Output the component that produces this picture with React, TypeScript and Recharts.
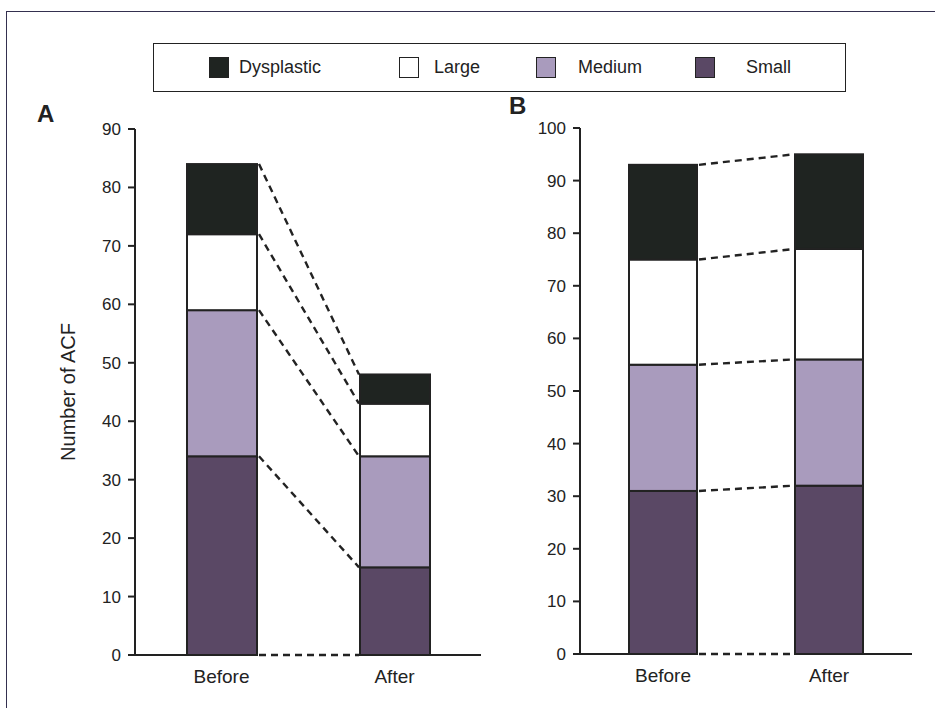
import React from 'react';
import { Bar, BarChart, Label, XAxis, YAxis } from 'recharts';

// bottom-to-top stack order
const SERIES = ['Small', 'Medium', 'Large', 'Dysplastic'];
const COLORS: Record<string, string> = {
  Small: '#5a4865',
  Medium: '#a99bbd',
  Large: '#ffffff',
  Dysplastic: '#1f2421'
};

const groups = ['Before', 'After'];

// panel A
const smallA = [34, 15];
const mediumA = [25, 19];
const largeA = [13, 9];
const dysplasticA = [12, 5];
const ticksA = [0, 10, 20, 30, 40, 50, 60, 70, 80, 90];

// panel B
const smallB = [31, 32];
const mediumB = [24, 24];
const largeB = [20, 21];
const dysplasticB = [18, 18];
const ticksB = [0, 10, 20, 30, 40, 50, 60, 70, 80, 90, 100];

const FONT = '"Liberation Sans", Arial, sans-serif';
const INK = '#222';

function toRows(small: number[], medium: number[], large: number[], dys: number[]) {
  return groups.map((g, i) => ({
    group: g,
    Small: small[i],
    Medium: medium[i],
    Large: large[i],
    Dysplastic: dys[i]
  }));
}

const dataA = toRows(smallA, mediumA, largeA, dysplasticA);
const dataB = toRows(smallB, mediumB, largeB, dysplasticB);

// remembers the "Before" segment so the "After" segment can draw the dashed link
const seen: Record<string, { x: number; y: number; width: number; height: number }> = {};

function linkedShape(key: string, withBase: boolean) {
  return (props: any) => {
    const { x, y, width, height, fill, index } = props;
    let links = null;
    if (index === 0) {
      seen[key] = { x, y, width, height };
    } else if (seen[key]) {
      const p = seen[key];
      const x1 = p.x + p.width + 2;
      const x2 = x - 1;
      links = (
        <g fill="none">
          <line x1={x1} y1={p.y} x2={x2} y2={y} stroke={INK} strokeWidth={2.4} strokeDasharray="7 5" />
          {withBase && (
            <g>
              {/* the axis is broken between the bars and replaced by dashes */}
              <line x1={p.x + p.width + 1} y1={p.y + p.height} x2={x - 1} y2={y + height} stroke="#fff" strokeWidth={5} />
              <line x1={x1} y1={p.y + p.height} x2={x2} y2={y + height} stroke={INK} strokeWidth={2.4} strokeDasharray="7 5" />
            </g>
          )}
        </g>
      );
    }
    return (
      <g>
        <rect x={x} y={y} width={width} height={height} fill={fill} stroke={INK} strokeWidth={2} />
        {links}
      </g>
    );
  };
}

function Panel({ id, data, ticks, max, width, yWidth, right, top, bottom, barSize, withLabel }: any) {
  return (
    <BarChart
      width={width}
      height={700}
      data={data}
      margin={{ top, right, left: 0, bottom }}
      barCategoryGap="30%"
    >
      <XAxis
        dataKey="group"
        height={30}
        tickLine={false}
        tickMargin={9}
        axisLine={{ stroke: INK, strokeWidth: 2 }}
        tick={{ fill: INK, fontSize: 19, fontFamily: FONT }}
      />
      <YAxis
        width={yWidth}
        domain={[0, max]}
        ticks={ticks}
        interval={0}
        tickSize={7}
        tickMargin={7}
        axisLine={{ stroke: INK, strokeWidth: 2 }}
        tickLine={{ stroke: INK, strokeWidth: 2 }}
        tick={{ fill: INK, fontSize: 17, fontFamily: FONT }}
      >
        {withLabel && (
          <Label
            value="Number of ACF"
            angle={-90}
            position="center"
            fontSize={20}
            fontFamily={FONT}
            fill={INK}
          />
        )}
      </YAxis>
      {SERIES.map((s, i) => (
        <Bar
          key={s}
          dataKey={s}
          stackId="acf"
          fill={COLORS[s]}
          barSize={barSize}
          isAnimationActive={false}
          zIndex={700}
          shape={linkedShape(id + s, i === 0)}
        />
      ))}
    </BarChart>
  );
}

export default function App() {
  const legendOrder = [...SERIES].reverse();
  // swatch left / text left, in px from the page's left edge
  const legendPos = [
    [209, 239],
    [399, 434],
    [536, 578],
    [695, 746]
  ];

  return (
    <div
      style={{
        position: 'absolute',
        left: 0,
        top: 0,
        width: 935,
        height: 708,
        overflow: 'hidden',
        background: '#fff',
        fontFamily: FONT
      }}
    >
      <div
        style={{
          position: 'absolute',
          left: 6,
          top: 11,
          width: 960,
          height: 740,
          border: '1.5px solid #34304f'
        }}
      />

      <div
        style={{
          position: 'absolute',
          left: 153,
          top: 43,
          width: 693,
          height: 49,
          boxSizing: 'border-box',
          border: `1.5px solid ${INK}`
        }}
      />
      {legendOrder.map((s, i) => (
        <React.Fragment key={s}>
          <span
            style={{
              position: 'absolute',
              left: legendPos[i][0],
              top: 57,
              width: 20,
              height: 21,
              boxSizing: 'border-box',
              background: COLORS[s],
              border: `1.5px solid ${INK}`
            }}
          />
          <span
            style={{
              position: 'absolute',
              left: legendPos[i][1],
              top: 56,
              fontSize: 18,
              lineHeight: '22px',
              color: INK
            }}
          >
            {s}
          </span>
        </React.Fragment>
      ))}

      <div style={{ position: 'absolute', left: 37, top: 100, fontSize: 24, fontWeight: 'bold', color: INK }}>A</div>
      <div style={{ position: 'absolute', left: 509, top: 92, fontSize: 24, fontWeight: 'bold', color: INK }}>B</div>

      <div style={{ position: 'absolute', left: 0, top: 0 }}>
        <Panel id="A" data={dataA} ticks={ticksA} max={90} width={500} yWidth={135} right={19} top={129} bottom={15} barSize={70} withLabel />
      </div>
      <div style={{ position: 'absolute', left: 440, top: 0 }}>
        <Panel id="B" data={dataB} ticks={ticksB} max={100} width={490} yWidth={140} right={18} top={128} bottom={16} barSize={68} />
      </div>
    </div>
  );
}
